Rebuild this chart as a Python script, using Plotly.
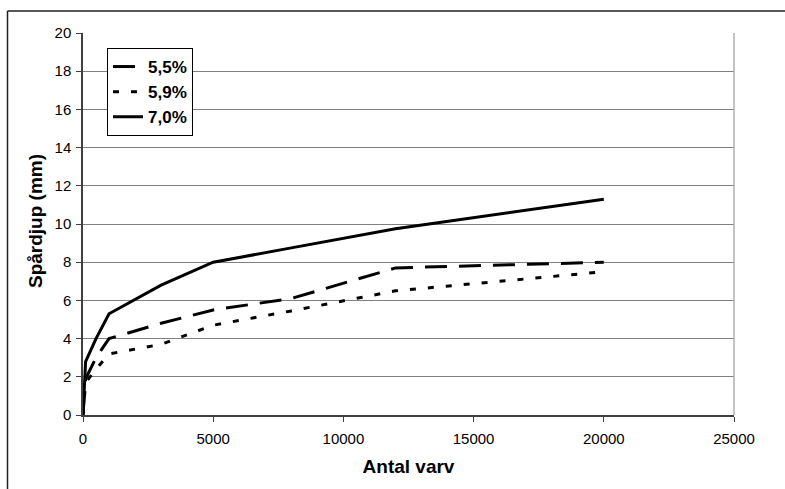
import plotly.graph_objects as go

antal_varv = [0, 100, 500, 1000, 3000, 5000, 8000, 12000, 20000]
spar_55 = [0, 1.9, 3.0, 4.0, 4.8, 5.5, 6.1, 7.7, 8.0]
spar_59 = [0, 1.7, 2.4, 3.2, 3.7, 4.7, 5.45, 6.5, 7.5]
spar_70 = [0, 2.8, 4.0, 5.3, 6.8, 8.0, 8.75, 9.75, 11.3]
series_names = ["5,5%", "5,9%", "7,0%"]
y_title = "Spårdjup (mm)"
x_title = "Antal varv"

FONT = "Liberation Sans, Arial, sans-serif"

fig = go.Figure()
fig.add_trace(go.Scatter(x=antal_varv, y=spar_55, mode="lines", name=series_names[0],
                         line=dict(color="black", width=3, dash="22px,12px")))
fig.add_trace(go.Scatter(x=antal_varv, y=spar_59, mode="lines", name=series_names[1],
                         line=dict(color="black", width=3, dash="6px,12px")))
fig.add_trace(go.Scatter(x=antal_varv, y=spar_70, mode="lines", name=series_names[2],
                         line=dict(color="black", width=3)))

L, R, T, B = 83, 51, 33, 74
W, H = 785, 489
pw, ph = W - L - R, H - T - B

def px(x):
    return (x - L) / pw

def py(y):
    return (H - B - y) / ph

fig.update_layout(
    width=W, height=H,
    margin=dict(l=L, r=R, t=T, b=B, pad=0),
    paper_bgcolor="white", plot_bgcolor="white",
    font=dict(family=FONT, color="black", size=14),
    showlegend=True,
    legend=dict(x=px(107), y=py(48), xanchor="left", yanchor="top",
                bgcolor="white", bordercolor="black", borderwidth=1,
                font=dict(size=17, family=FONT, weight="bold"),
                tracegroupgap=0, itemwidth=30),
    xaxis=dict(range=[0, 25000], tickvals=[0, 5000, 10000, 15000, 20000, 25000],
               ticktext=["0", "5000", "10000", "15000", "20000", "25000"],
               showgrid=False, zeroline=False,
               showline=True, linecolor="#404040", linewidth=1.5,
               ticks="outside", ticklen=5, tickcolor="#404040", tickwidth=1,
               tickfont=dict(size=15), ticklabelstandoff=4,
               title=dict(text=x_title, font=dict(size=19, weight="bold"), standoff=14)),
    yaxis=dict(range=[0, 20], tickvals=list(range(0, 21, 2)),
               showgrid=True, gridcolor="#808080", gridwidth=1, zeroline=False,
               showline=True, linecolor="#404040", linewidth=1.5,
               ticks="outside", ticklen=5, tickcolor="#404040", tickwidth=1,
               tickfont=dict(size=15), ticklabelstandoff=2),
)

fig.add_annotation(text=y_title, textangle=-90, xref="paper", yref="paper",
                   x=px(35), y=py(221), xanchor="center", yanchor="middle",
                   showarrow=False, font=dict(size=19, weight="bold", family=FONT))

# right border of plot area (light grey)
fig.add_shape(type="line", xref="paper", yref="paper", x0=1, x1=1, y0=0, y1=1,
              line=dict(color="#b0b0b0", width=1.5))
# outer chart frame (left and top edges)
fig.add_shape(type="line", xref="paper", yref="paper", x0=px(7.5), x1=px(7.5), y0=py(489), y1=py(11),
              line=dict(color="#202020", width=1.5))
fig.add_shape(type="line", xref="paper", yref="paper", x0=px(7.5), x1=px(785), y0=py(11), y1=py(11),
              line=dict(color="#202020", width=1.5))

fig.write_html("out.html")
